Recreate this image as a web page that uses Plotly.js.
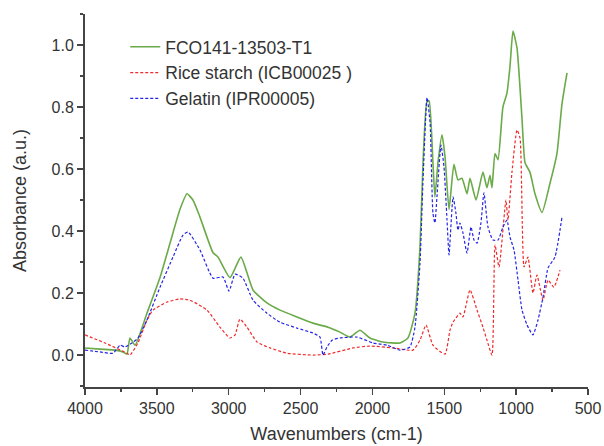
<!DOCTYPE html>
<html>
<head>
<meta charset="utf-8">
<script src="https://cdn.plot.ly/plotly-3.0.1.min.js"></script>
<style>html,body{margin:0;padding:0;background:#fff;}#chart{width:604px;height:446px;}</style>
</head>
<body>
<div id="chart"></div>
<script>
// Series names
const seriesNames = ["FCO141-13503-T1", "Rice starch (ICB00025 )", "Gelatin (IPR00005)"];

// FCO141-13503-T1 (green)
const fcoWn  = [4000,3896,3791,3736,3708,3687,3652,3569,3478,3409,3339,3290,3249,3200,3109,3075,2991,2915,2831,2734,2643,2525,2414,2309,2226,2156,2087,2017,1927,1808,1753,1704,1669,1648,1620,1606,1579,1565,1544,1516,1495,1467,1433,1405,1377,1342,1321,1279,1231,1203,1182,1168,1147,1126,1092,1064,1043,1022,994,959,938,904,869,820,764,716,681,646];
const fcoAbs = [0.023,0.019,0.016,0.010,0.003,0.055,0.032,0.135,0.25,0.36,0.47,0.52,0.50,0.445,0.33,0.316,0.25,0.316,0.21,0.168,0.145,0.123,0.103,0.09,0.074,0.058,0.08,0.055,0.042,0.039,0.055,0.135,0.35,0.62,0.82,0.82,0.62,0.51,0.62,0.71,0.64,0.47,0.615,0.565,0.57,0.52,0.57,0.50,0.59,0.54,0.58,0.54,0.65,0.63,0.80,0.845,0.93,1.045,0.99,0.76,0.62,0.59,0.52,0.46,0.555,0.65,0.81,0.91];

// Rice starch (red)
const riceWn  = [4000,3861,3708,3687,3631,3569,3527,3429,3339,3269,3151,3061,2991,2956,2922,2873,2803,2713,2594,2414,2309,2135,2017,1857,1718,1669,1627,1579,1495,1460,1439,1391,1370,1321,1272,1231,1203,1168,1147,1119,1071,1057,1029,994,973,945,918,883,855,813,778,737,695];
const riceAbs = [0.065,0.039,0.006,0.0,0.04,0.113,0.145,0.171,0.181,0.177,0.145,0.09,0.055,0.065,0.116,0.09,0.042,0.023,0.006,0.0,0.003,0.023,0.029,0.023,0.016,0.048,0.097,0.032,0.003,0.081,0.106,0.135,0.123,0.21,0.145,0.09,0.048,0.0,0.355,0.284,0.50,0.435,0.59,0.726,0.70,0.284,0.316,0.20,0.258,0.177,0.242,0.219,0.274];

// Gelatin (blue)
const gelWn  = [4000,3896,3805,3756,3722,3673,3631,3569,3478,3388,3318,3283,3200,3109,3040,2998,2956,2901,2831,2734,2643,2525,2414,2365,2344,2316,2281,2226,2107,1996,1899,1808,1739,1704,1669,1648,1620,1599,1579,1565,1551,1523,1502,1481,1467,1439,1419,1405,1391,1370,1342,1314,1293,1272,1245,1224,1196,1161,1126,1092,1064,1043,1015,987,959,924,883,848,813,778,730,681];
const gelAbs = [0.016,0.01,0.006,0.032,0.026,0.039,0.055,0.113,0.219,0.316,0.387,0.397,0.339,0.248,0.252,0.206,0.261,0.248,0.177,0.135,0.106,0.087,0.071,0.058,0.0,0.026,0.048,0.055,0.058,0.039,0.032,0.016,0.026,0.09,0.297,0.565,0.83,0.75,0.458,0.426,0.51,0.677,0.606,0.435,0.323,0.51,0.458,0.403,0.426,0.394,0.329,0.413,0.371,0.361,0.426,0.523,0.413,0.371,0.371,0.413,0.435,0.381,0.339,0.242,0.145,0.097,0.065,0.113,0.187,0.281,0.316,0.445];

// Axis ticks
const xTicks = [4000,3500,3000,2500,2000,1500,1000,500];
const yTicks = [0.0,0.2,0.4,0.6,0.8,1.0];

const traces = [
  {x: fcoWn, y: fcoAbs, name: seriesNames[0], mode: 'lines', legendgroup: 'a',
   line: {color: '#6aaa48', width: 1.6, shape: 'spline', smoothing: 0.5}},
  {x: riceWn, y: riceAbs, name: seriesNames[1], mode: 'lines', legendgroup: 'b',
   line: {color: '#f02a2a', width: 1.2, dash: '3px,2px', shape: 'spline', smoothing: 0.5}},
  {x: gelWn, y: gelAbs, name: seriesNames[2], mode: 'lines', legendgroup: 'c',
   line: {color: '#2424e6', width: 1.2, dash: '3px,2px', shape: 'spline', smoothing: 0.5}}
];

const axisFont = {family: 'Liberation Sans, Arial, sans-serif', size: 16, color: '#333'};

const layout = {
  width: 604, height: 446,
  margin: {l: 85, r: 16, t: 14, b: 59},
  paper_bgcolor: '#fff', plot_bgcolor: '#fff',
  showlegend: true,
  legend: {x: 0.08, y: 0.96, xanchor: 'left', yanchor: 'top',
    bgcolor: 'rgba(0,0,0,0)', font: {family: 'Liberation Sans, Arial, sans-serif', size: 17.5, color: '#333'},
    tracegroupgap: 0},
  xaxis: {
    range: [4000, 500], tickvals: xTicks, ticktext: xTicks.map(String),
    showgrid: false, zeroline: false, showline: true, linecolor: '#444', linewidth: 2,
    ticks: 'outside', ticklen: 6, tickwidth: 1.5, tickcolor: '#444',
    minor: {dtick: 250, tick0: 0, ticks: 'outside', ticklen: 3, tickwidth: 1.2, tickcolor: '#444', showgrid: false},
    tickfont: axisFont,
    title: {text: 'Wavenumbers (cm-1)', font: {family: 'Liberation Sans, Arial, sans-serif', size: 18, color: '#333'}, standoff: 11}
  },
  yaxis: {
    range: [-0.103, 1.1], tickvals: yTicks, ticktext: yTicks.map(v => v.toFixed(1)),
    showgrid: false, zeroline: false, showline: true, linecolor: '#444', linewidth: 2,
    ticks: 'outside', ticklen: 6, tickwidth: 1.5, tickcolor: '#444',
    minor: {dtick: 0.1, tick0: 0, ticks: 'outside', ticklen: 3, tickwidth: 1.2, tickcolor: '#444', showgrid: false},
    tickfont: axisFont,
    title: {text: 'Absorbance (a.u.)', font: {family: 'Liberation Sans, Arial, sans-serif', size: 18, color: '#333'}, standoff: 20}
  }
};

Plotly.newPlot('chart', traces, layout, {displayModeBar: false, staticPlot: true});
</script>
</body>
</html>
